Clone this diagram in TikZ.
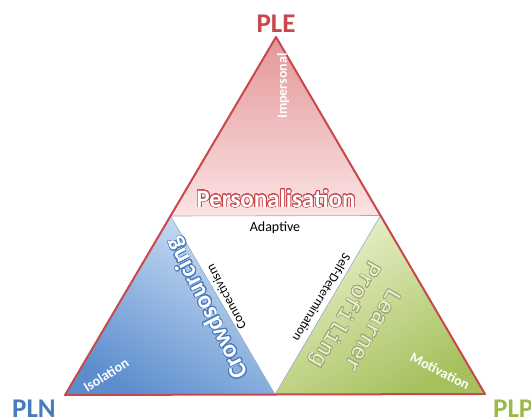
\documentclass[tikz,border=0pt]{standalone}
\usepackage{fontspec}
\setmainfont{Carlito}
\newfontfamily\learnerfont{Liberation Mono}
\usepackage{contour}
\usetikzlibrary{calc}
\definecolor{plered}{RGB}{200,72,78}
\definecolor{plnblue}{RGB}{72,122,190}
\definecolor{plpgreen}{RGB}{155,187,72}
\definecolor{pinktop}{RGB}{228,150,152}
\definecolor{pinkbottom}{RGB}{251,228,228}
\definecolor{bluedark}{RGB}{92,142,206}
\definecolor{bluelight}{RGB}{205,224,244}
\definecolor{greendark}{RGB}{165,192,92}
\definecolor{greenlight}{RGB}{236,242,206}
\definecolor{innerline}{RGB}{150,172,200}
\definecolor{profileline}{RGB}{160,168,120}
\contourlength{0.7pt}
\contournumber{32}
\tikzset{
    corner-label/.style = {font=\fontsize{27}{27}\selectfont\bfseries, inner sep=0pt},
    white-label/.style = {text=white, font=\fontsize{14}{14}\selectfont\bfseries, inner sep=0pt},
    edge-label/.style = {text=black, font=\fontsize{13}{13}\selectfont, inner sep=0pt},
    hollow-label/.style = {text=white, font=\fontsize{25}{25}\selectfont\bfseries, inner sep=0pt},
    outer-edge/.style = {draw=plered, line width=2pt, line join=round},
    inner-edge/.style = {draw=innerline, line width=0.6pt},
}

\begin{document}
\begin{tikzpicture}[x=1pt, y=-1pt]
\clip (0,0) rectangle (531,418);
\fill[white] (0,0) rectangle (531,418);
% corners of the big triangle
\coordinate (E) at (276,37);
\coordinate (N) at (65,395);
\coordinate (P) at (485,394);
\coordinate (EN) at ($(E)!0.5!(N)$);
\coordinate (EP) at ($(E)!0.5!(P)$);
\coordinate (NP) at ($(N)!0.5!(P)$);
% the four parts
\shade[top color=pinktop, bottom color=pinkbottom] (E) -- (EN) -- (EP) -- cycle;
\shade[top color=bluelight, bottom color=bluedark, shading angle=-30] (EN) -- (N) -- (NP) -- cycle;
\shade[top color=greenlight, bottom color=greendark, shading angle=30] (EP) -- (NP) -- (P) -- cycle;
\draw[inner-edge] (EN) -- (EP);
\draw[inner-edge] (EN) -- (NP);
\draw[inner-edge] (EP) -- (NP);
\draw[outer-edge] (E) -- (N) -- (P) -- cycle;
% corner labels
\node[corner-label, text=plered, anchor=base] (ple) at (276,32) {PLE};
\node[corner-label, text=plnblue, anchor=base west] (pln) at (12,417) {PLN};
\node[corner-label, text=plpgreen, anchor=base west] (plp) at (493,417) {PLP};
% labels inside
\node[white-label, rotate=90] (impersonal) at (283,86) {Impersonal};
\node[white-label, rotate=32] (isolation) at (106,375) {Isolation};
\node[white-label, rotate=-27] (motivation) at (440,371) {Motivation};
\node[hollow-label, anchor=base] (personalisation) at (276,207) {\contour{plered}{Personalisation}};
\node[hollow-label, rotate=117] (crowd) at (208,308) {\contour{plnblue}{Crowdsourcing}};
\node[hollow-label, text=greenlight, font=\fontsize{22}{31}\selectfont\learnerfont, align=center, rotate=-120] (learner) at (357,322) {\contour{profileline}{Learner}\\\contour{profileline}{Profiling}};
\node[edge-label, font=\fontsize{14}{14}\selectfont] (adaptive) at (275,228) {Adaptive};
\node[edge-label, rotate=118] (connect) at (226,297) {Connectivism};
\node[edge-label, rotate=-121] (selfdet) at (322,298) {Self-Determination};
\end{tikzpicture}
\end{document}
